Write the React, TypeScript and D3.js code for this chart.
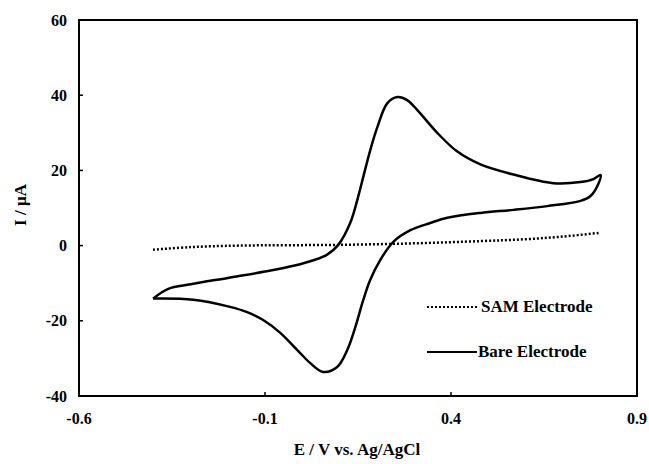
import React from "react";
import * as d3 from "d3";

// Bare electrode CV, anodic sweep (left -> right) then cathodic sweep (right -> left)
const bareE = [
  -0.401, -0.36, -0.3, -0.2, -0.1, -0.02, 0.03, 0.067, 0.097, 0.129, 0.148, 0.164, 0.183, 0.202, 0.229,
  0.256, 0.282, 0.309, 0.363, 0.417, 0.479, 0.568, 0.675, 0.748, 0.783, 0.802,
  0.796, 0.775, 0.748, 0.659, 0.568, 0.479, 0.39, 0.344, 0.291, 0.245, 0.21, 0.183, 0.164, 0.143,
  0.121, 0.094, 0.056, 0.021, -0.013, -0.059, -0.105, -0.148, -0.194, -0.293, -0.401,
];
const bareI = [
  -14.1, -11.5, -10.3, -8.6, -6.9, -5.3, -3.9, -2.4, 0.2, 6.0, 12.1, 18.2, 25.4, 31.5, 37.9,
  39.5, 38.7, 36.1, 30.0, 25.0, 21.6, 18.9, 16.6, 16.9, 17.7, 18.8,
  16.4, 13.2, 11.9, 10.5, 9.5, 8.7, 7.4, 6.0, 4.1, 1.0, -3.8, -9.1, -14.5, -21.6,
  -27.8, -32.3, -33.6, -31.2, -27.8, -23.2, -19.8, -17.7, -16.3, -14.4, -14.1,
];

// SAM electrode
const samE = [-0.401, -0.3, -0.17, 0.1, 0.3, 0.48, 0.6, 0.7, 0.8];
const samI = [-1.1, -0.4, 0.0, 0.2, 0.6, 1.2, 1.7, 2.4, 3.4];

const xTicks = [-0.6, -0.1, 0.4, 0.9];
const yTicks = [-40, -20, 0, 20, 40, 60];
const legendLabels = ["SAM Electrode", "Bare Electrode"];

const W = 649;
const H = 464;
const left = 79;
const right = 637;
const top = 20;
const bottom = 396;
const font = "'Liberation Serif', 'Times New Roman', serif";

const App = () => {
  const x = d3.scaleLinear().domain([-0.6, 0.9]).range([left, right]);
  const y = d3.scaleLinear().domain([-40, 60]).range([bottom, top]);

  const line = d3
    .line<[number, number]>()
    .x((d) => x(d[0]))
    .y((d) => y(d[1]))
    .curve(d3.curveCatmullRom.alpha(0.5));

  const bare: [number, number][] = bareE.map((e, i) => [e, bareI[i]]);
  const sam: [number, number][] = samE.map((e, i) => [e, samI[i]]);

  return (
    <svg
      width={W}
      height={H}
      style={{ position: "absolute", left: 0, top: 0, background: "#fff" }}
      fontFamily={font}
      fontWeight="bold"
    >
      <rect x={0} y={0} width={W} height={H} fill="#fff" />
      <path d={line(sam) || ""} fill="none" stroke="#000" strokeWidth={2.5} strokeDasharray="2,2" />
      <path d={line(bare) || ""} fill="none" stroke="#000" strokeWidth={2.5} strokeLinejoin="round" />

      {/* frame */}
      <rect x={left} y={top} width={right - left} height={bottom - top} fill="none" stroke="#000" strokeWidth={2} />

      {/* y ticks */}
      {yTicks.map((t) => (
        <g key={"y" + t}>
          <line x1={left} x2={left + 4} y1={y(t)} y2={y(t)} stroke="#000" strokeWidth={1.5} />
          <text x={left - 12} y={y(t)} dy="0.35em" textAnchor="end" fontSize={16}>
            {t}
          </text>
        </g>
      ))}

      {/* x ticks */}
      {xTicks.map((t) => (
        <g key={"x" + t}>
          <line x1={x(t)} x2={x(t)} y1={bottom} y2={bottom - 4} stroke="#000" strokeWidth={1.5} />
          <text x={x(t)} y={424} textAnchor="middle" fontSize={16}>
            {t}
          </text>
        </g>
      ))}

      <text x={357} y={455} textAnchor="middle" fontSize={17}>
        E / V vs. Ag/AgCl
      </text>
      <text transform="translate(26,205) rotate(-90)" textAnchor="middle" fontSize={17}>
        I / µA
      </text>

      {/* legend */}
      <line x1={427} x2={477} y1={307} y2={307} stroke="#000" strokeWidth={2} strokeDasharray="2,2" />
      <text x={481} y={312} fontSize={17}>
        {legendLabels[0]}
      </text>
      <line x1={427} x2={477} y1={352} y2={352} stroke="#000" strokeWidth={2} />
      <text x={478} y={357} fontSize={17}>
        {legendLabels[1]}
      </text>
    </svg>
  );
};

export default App;
